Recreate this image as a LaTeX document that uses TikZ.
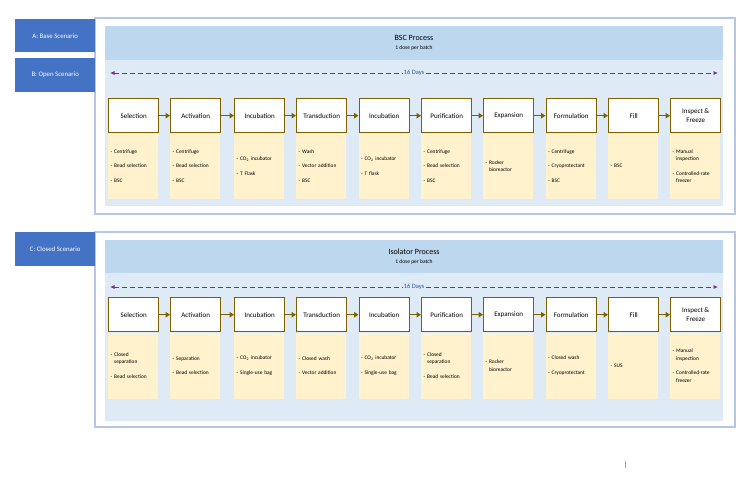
\documentclass[tikz,border=0pt]{standalone}
\usepackage{fontspec}
\setmainfont{Carlito}
\usetikzlibrary{arrows.meta}
\definecolor{tabblue}{HTML}{4472C4}
\definecolor{framecol}{HTML}{B4C7E7}
\definecolor{panelbg}{HTML}{DEEBF7}
\definecolor{headbg}{HTML}{BDD7EE}
\definecolor{stepbrd}{HTML}{7F6000}
\definecolor{descbg}{HTML}{FFF2CC}
\definecolor{dashcol}{HTML}{7030A0}
\definecolor{daystxt}{HTML}{2F5597}
\tikzset{
  tabbox/.style={fill=tabblue, draw=none, text=white, font=\fontsize{6.8}{8}\selectfont, anchor=north west, minimum width=80pt, inner sep=0pt},
  outerframe/.style={draw=framecol, line width=1.1pt, fill=white},
  panel/.style={fill=panelbg, draw=none},
  header/.style={fill=headbg, draw=none},
  stepbox/.style={draw=stepbrd, line width=1.4pt, fill=white, anchor=north west, minimum width=50pt, minimum height=34pt, inner sep=1pt, align=center, font=\fontsize{7}{8.5}\selectfont},
  descbox/.style={fill=descbg, draw=none, anchor=north west, text width=45pt, inner xsep=2.5pt, inner ysep=0pt, align=left, font=\fontsize{5.4}{7.6}\selectfont},
  flow/.style={draw=stepbrd, line width=1.5pt, -{Triangle[length=4.5pt,width=5.5pt]}},
  dasharrow/.style={draw=dashcol, line width=0.8pt, dash pattern=on 5pt off 3pt, {Latex[length=4.5pt,width=4pt]}-{Latex[length=4.5pt,width=4pt]}},
  daylabel/.style={fill=panelbg, text=daystxt, font=\fontsize{6.5}{7.5}\selectfont, inner sep=1pt},
  titletext/.style={font=\fontsize{8}{9.5}\selectfont},
  subtext/.style={font=\fontsize{5.5}{6.5}\selectfont},
}
\newcommand{\hg}{\phantom{- }}
\begin{document}
\begin{tikzpicture}[x=1pt,y=-1pt]
\useasboundingbox (0,0) rectangle (750,480);

% ---------------- Top panel ----------------
\draw[outerframe] (95,18) rectangle (735,214);
\fill[panel] (105,26) rectangle (723,206);
\fill[header] (105,26) rectangle (723,60);
\node[tabbox, minimum height=33pt] (tabA) at (15,19) {A: Base Scenario};
\node[tabbox, minimum height=34pt] (tabB) at (15,58) {B: Open Scenario};
\node[titletext] (titleA) at (414,38) {BSC Process};
\node[subtext] (subA) at (414,48.5) {1 dose per batch};
\coordinate (dAL) at (110,73);
\coordinate (dAR) at (718,73);
\draw[dasharrow] (dAL) -- (dAR) node[daylabel, midway] (daysA) {16 Days};

\foreach \i/\x/\lab in {1/108/Selection, 2/170/Activation, 3/234/Incubation, 4/296/Transduction, 5/358.5/Incubation, 6/421/Purification, 7/483/Expansion, 8/545.5/Formulation, 9/608/Fill, 10/670/{Inspect \&\\ Freeze}}{
  \node[stepbox] (t\i) at (\x,98) {\lab};
}
\node[descbox, minimum height=65pt] (td1) at (t1.south west) {- Centrifuge\\[7pt]- Bead selection\\[7pt]- BSC};
\node[descbox, minimum height=65pt] (td2) at (t2.south west) {- Centrifuge\\[7pt]- Bead selection\\[7pt]- BSC};
\node[descbox, minimum height=65pt] (td3) at (t3.south west) {- CO\textsubscript{2} incubator\\[7pt]- T Flask};
\node[descbox, minimum height=65pt] (td4) at (t4.south west) {- Wash\\[7pt]- Vector addition\\[7pt]- BSC};
\node[descbox, minimum height=65pt] (td5) at (t5.south west) {- CO\textsubscript{2} incubator\\[7pt]- T flask};
\node[descbox, minimum height=65pt] (td6) at (t6.south west) {- Centrifuge\\[7pt]- Bead selection\\[7pt]- BSC};
\node[descbox, minimum height=65pt] (td7) at (t7.south west) {- Rocker\\\hg bioreactor};
\node[descbox, minimum height=65pt] (td8) at (t8.south west) {- Centrifuge\\[7pt]- Cryoprotectant\\[7pt]- BSC};
\node[descbox, minimum height=65pt] (td9) at (t9.south west) {- BSC};
\node[descbox, minimum height=65pt] (td10) at (t10.south west) {- Manual\\\hg inspection\\[7pt]- Controlled-rate\\\hg freezer};
\foreach \i [evaluate=\i as \j using int(\i+1)] in {1,...,9}{
  \draw[flow] (t\i.east) -- (t\j.west);
}

% ---------------- Bottom panel ----------------
\draw[outerframe] (95,232) rectangle (735,427);
\fill[panel] (105,240) rectangle (723,421);
\fill[header] (105,240) rectangle (723,273);
\node[tabbox, minimum height=34pt] (tabC) at (15,232) {C: Closed Scenario};
\node[titletext] (titleC) at (414,252) {Isolator Process};
\node[subtext] (subC) at (414,262.5) {1 dose per batch};
\coordinate (dCL) at (110,287);
\coordinate (dCR) at (718,287);
\draw[dasharrow] (dCL) -- (dCR) node[daylabel, midway] (daysC) {16 Days};

\foreach \i/\x/\lab in {1/108/Selection, 2/170/Activation, 3/234/Incubation, 4/296/Transduction, 5/358.5/Incubation, 6/421/Purification, 7/483/Expansion, 8/545.5/Formulation, 9/608/Fill, 10/670/{Inspect \&\\ Freeze}}{
  \node[stepbox] (b\i) at (\x,297) {\lab};
}
\node[descbox, minimum height=66pt] (bd1) at (b1.south west) {- Closed\\\hg separation\\[7pt]- Bead selection};
\node[descbox, minimum height=66pt] (bd2) at (b2.south west) {- Separation\\[7pt]- Bead selection};
\node[descbox, minimum height=66pt] (bd3) at (b3.south west) {- CO\textsubscript{2} incubator\\[7pt]- Single-use bag};
\node[descbox, minimum height=66pt] (bd4) at (b4.south west) {- Closed wash\\[7pt]- Vector addition};
\node[descbox, minimum height=66pt] (bd5) at (b5.south west) {- CO\textsubscript{2} incubator\\[7pt]- Single-use bag};
\node[descbox, minimum height=66pt] (bd6) at (b6.south west) {- Closed\\\hg separation\\[7pt]- Bead selection};
\node[descbox, minimum height=66pt] (bd7) at (b7.south west) {- Rocker\\\hg bioreactor};
\node[descbox, minimum height=66pt] (bd8) at (b8.south west) {- Closed wash\\[7pt]- Cryoprotectant};
\node[descbox, minimum height=66pt] (bd9) at (b9.south west) {- SUS};
\node[descbox, minimum height=66pt] (bd10) at (b10.south west) {- Manual\\\hg inspection\\[7pt]- Controlled-rate\\\hg freezer};
\foreach \i [evaluate=\i as \j using int(\i+1)] in {1,...,9}{
  \draw[flow] (b\i.east) -- (b\j.west);
}

% stray mark
\draw[gray!70, line width=0.6pt] (625,461) -- (625,468);
\end{tikzpicture}
\end{document}
